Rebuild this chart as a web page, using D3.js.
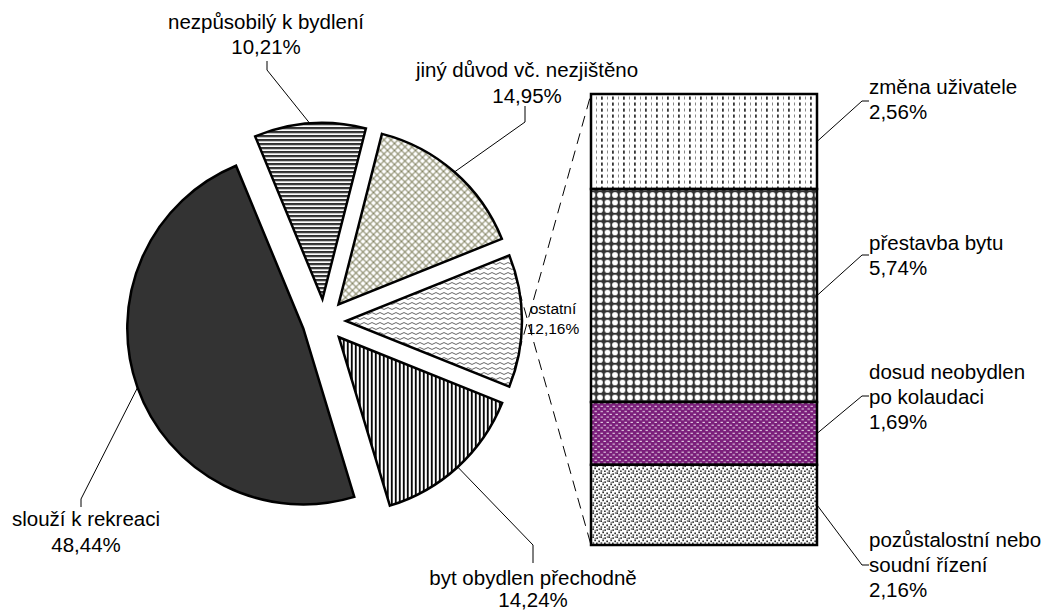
<!DOCTYPE html>
<html>
<head>
<meta charset="utf-8">
<script src="https://cdn.jsdelivr.net/npm/d3@7"></script>
<style>
  html,body{margin:0;padding:0;background:#fff;}
  svg{display:block;font-family:"Liberation Sans",Arial,sans-serif;}
</style>
</head>
<body>
<svg id="chart" width="1056" height="610"></svg>
<script>
// ---- data ----
const pieCategories = ["byt obydlen přechodně", "slouží k rekreaci", "nezpůsobilý k bydlení", "jiný důvod vč. nezjištěno", "ostatní"];
const pieValues = [14.24, 48.44, 10.21, 14.95, 12.16];
const barCategories = [["změna uživatele"], ["přestavba bytu"], ["dosud neobydlen", "po kolaudaci"], ["pozůstalostní nebo", "soudní řízení"]];
const barValues = [2.56, 5.74, 1.69, 2.16];

// ---- layout ----
const svg = d3.select("#chart");
const W = 1056, H = 610;
svg.append("rect").attr("width", W).attr("height", H).attr("fill", "#fff");
const C = {x: 324, y: 321};
const R = 176, EXPLODE = 22;
const fmt = v => d3.format(".2f")(v).replace(".", ",") + "%";

const defs = svg.append("defs");
function pat(id, w, h) {
  return defs.append("pattern").attr("id", id).attr("patternUnits", "userSpaceOnUse")
    .attr("width", w).attr("height", h);
}
// horizontal stripes (nezpůsobilý)
let p = pat("hstripe", 8, 4);
p.append("rect").attr("width", 8).attr("height", 4).attr("fill", "#fff");
p.append("rect").attr("y", 0).attr("width", 8).attr("height", 1.9).attr("fill", "#222");
p.append("rect").attr("y", 1.9).attr("width", 8).attr("height", 0.6).attr("fill", "#999");
// vertical stripes (byt)
p = pat("vstripe", 4, 8);
p.append("rect").attr("width", 4).attr("height", 8).attr("fill", "#fff");
p.append("rect").attr("x", 0).attr("width", 1.8).attr("height", 8).attr("fill", "#000");
// lattice (jiný)
p = pat("lattice", 7, 7);
p.append("rect").attr("width", 7).attr("height", 7).attr("fill", "#fff");
p.append("path").attr("d", "M0,0L7,7M7,0L0,7").attr("stroke", "#828260").attr("stroke-width", 1.05);
// waves (ostatní)
p = pat("wave", 8, 5);
p.append("rect").attr("width", 8).attr("height", 5).attr("fill", "#fff");
p.append("path").attr("d", "M0,2.5Q2,0.6 4,2.5T8,2.5").attr("fill", "none").attr("stroke", "#666").attr("stroke-width", 1);
// dashes (změna)
p = pat("dashes", 11, 6);
p.append("rect").attr("width", 11).attr("height", 6).attr("fill", "#fff");
p.append("line").attr("x1", 2.5).attr("x2", 2.5).attr("y1", 0.5).attr("y2", 3.5).attr("stroke", "#888").attr("stroke-width", 1);
p.append("rect").attr("x", 7).attr("y", 0.5).attr("width", 1.8).attr("height", 3.2).attr("fill", "#333");
// stars (přestavba)
p = pat("stars", 7.5, 7.5);
p.append("rect").attr("width", 7.5).attr("height", 7.5).attr("fill", "#333");
[[0,0],[7.5,0],[0,7.5],[7.5,7.5]].forEach(([x,y]) =>
  p.append("circle").attr("cx", x).attr("cy", y).attr("r", 2.9).attr("fill", "#fff"));
// purple (dosud)
p = pat("purple", 6, 5.4);
p.append("rect").attr("width", 6).attr("height", 5.4).attr("fill", "#7b1f7b");
p.append("rect").attr("x", 0.5).attr("y", 0.7).attr("width", 2.4).attr("height", 1.1).attr("fill", "#fff").attr("opacity", 0.8);
p.append("rect").attr("x", 3.5).attr("y", 3.4).attr("width", 2.4).attr("height", 1.1).attr("fill", "#fff").attr("opacity", 0.8);
// speckle (pozůstalostní)
p = pat("speckle", 8, 8);
p.append("rect").attr("width", 8).attr("height", 8).attr("fill", "#fff");
[[0.3,0.3,"#333"],[4.3,1.3,"#444"],[2.3,3.5,"#333"],[6.3,4.5,"#333"],[0.5,6.2,"#555"],[4,6.5,"#333"],[6.8,0.2,"#777"],[2.5,1.8,"#888"]].forEach(([x,y,c]) =>
  p.append("rect").attr("x", x).attr("y", y).attr("width", 1.7).attr("height", 1.7).attr("fill", c));

const pieFills = ["url(#vstripe)", "#333333", "url(#hstripe)", "url(#lattice)", "url(#wave)"];
const barFills = ["url(#dashes)", "url(#stars)", "url(#purple)", "url(#speckle)"];

// ---- pie ----
const otherIdx = 4;
const start = Math.PI / 2 + (pieValues[otherIdx] / 100) * Math.PI;
const pie = d3.pie().sort(null).value(d => d).startAngle(start).endAngle(start + 2 * Math.PI);
const arcs = pie(pieValues);
const arcGen = d3.arc().innerRadius(0).outerRadius(R);
const pol = (a, r) => [Math.sin(a) * r, -Math.cos(a) * r];

const g = svg.append("g").attr("transform", `translate(${C.x},${C.y})`);
arcs.forEach((a, i) => {
  const mid = (a.startAngle + a.endAngle) / 2;
  const [dx, dy] = pol(mid, EXPLODE);
  a.off = [dx, dy];
  a.mid = mid;
  g.append("path").attr("d", arcGen(a)).attr("transform", `translate(${dx},${dy})`)
    .attr("fill", pieFills[i]).attr("stroke", "#000").attr("stroke-width", 2.5).attr("stroke-linejoin", "miter");
});

// ---- bar ----
const bar = {x0: 591, x1: 817, top: 94, bottom: 545};
const total = d3.sum(barValues);
const yScale = d3.scaleLinear().domain([0, total]).range([bar.top, bar.bottom]);
const cum = d3.cumsum(barValues);
const segs = barValues.map((v, i) => ({v, y0: yScale(cum[i] - v), y1: yScale(cum[i])}));
svg.selectAll("rect.seg").data(segs).join("rect").attr("class", "seg")
  .attr("x", bar.x0).attr("width", bar.x1 - bar.x0)
  .attr("y", d => d.y0).attr("height", d => d.y1 - d.y0)
  .attr("fill", (d, i) => barFills[i]).attr("stroke", "#000").attr("stroke-width", 2.5);

// dashed connectors from the "ostatní" slice to the bar
const oa = arcs[otherIdx];
const oTop = pol(oa.endAngle, R), oBot = pol(oa.startAngle, R);
const ox = C.x + oa.off[0], oy = C.y + oa.off[1];
[[oTop, bar.top], [oBot, bar.bottom]].forEach(([pt, by]) => {
  svg.append("line").attr("x1", ox + pt[0]).attr("y1", oy + pt[1]).attr("x2", bar.x0).attr("y2", by)
    .attr("stroke", "#000").attr("stroke-width", 1).attr("stroke-dasharray", "11,7");
});

// ---- labels ----
const FS = 20.5;
function txt(x, y, s, size, anchor) {
  svg.append("text").attr("x", x).attr("y", y).attr("font-size", size || FS)
    .attr("text-anchor", anchor || "start").attr("fill", "#000").text(s);
}
function leader(points) {
  svg.append("path").attr("d", d3.line()(points)).attr("fill", "none").attr("stroke", "#000").attr("stroke-width", 1);
}
function edgePt(i) {
  const a = arcs[i];
  const [px, py] = pol(a.mid, R);
  return [C.x + a.off[0] + px, C.y + a.off[1] + py];
}
// pie labels: centre x, baselines of name and value, leader end points
const pieLabelLayout = [
  {cx: 533, y: [585, 607], lead: [[533, 545], [533, 563]]},
  {cx: 86, y: [526, 552], lead: [[81, 499], [81, 507]]},
  {cx: 266, y: [29, 54], lead: [[267, 70], [267, 61]]},
  {cx: 527, y: [77, 103], lead: [[525, 122], [525, 106]]},
  {cx: 553, y: [314, 334], lead: null, size: 15.5}
];
pieLabelLayout.forEach((L, i) => {
  txt(L.cx, L.y[0], pieCategories[i], L.size, "middle");
  txt(L.cx, L.y[1], fmt(pieValues[i]), L.size, "middle");
  if (L.lead) leader([edgePt(i)].concat(L.lead));
});

// bar labels
const barLabelLayout = [
  {y: 94, tick: 101},
  {y: 250, tick: 255},
  {y: 379, tick: 396},
  {y: 547, tick: 565}
];
barLabelLayout.forEach((L, i) => {
  const lines = barCategories[i].concat([fmt(barValues[i])]);
  lines.forEach((s, k) => txt(869, L.y + k * 25, s));
  const midY = (segs[i].y0 + segs[i].y1) / 2;
  leader([[bar.x1, midY], [862, L.tick], [869, L.tick]]);
});
</script>
</body>
</html>
